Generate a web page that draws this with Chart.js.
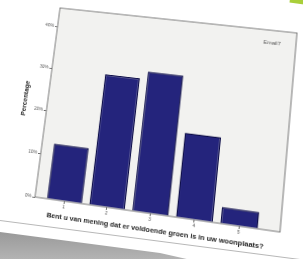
<!DOCTYPE html>
<html>
<head>
  <meta charset="utf-8">
  <title>Groen in uw woonplaats</title>
  <script src="https://cdn.jsdelivr.net/npm/chart.js"></script>
  <style>
    html, body { margin: 0; padding: 0; width: 303px; height: 259px; overflow: hidden; background: #fff; }
    #shadow { position: absolute; left: 0; top: 0; width: 303px; height: 259px;
      background: linear-gradient(180deg, #8e8e8e 85%, #b3b3b3 100%);
      clip-path: polygon(0 232px, 160px 253px, 200px 262px, 0 262px); }
    #edge { position: absolute; left: 0; top: 220px; width: 320px; height: 1px; background: #b8b8b8;
      transform: rotate(7.4deg); transform-origin: 0 0; }
    #corner { position: absolute; left: 290px; top: -5px; width: 22px; height: 9px; background: #a9cf3a;
      transform: rotate(8deg); }
    #chart { position: absolute; left: 0; top: 0; transform-origin: 0 0; }
  </style>
</head>
<body>
  <div id="shadow"></div>
  <div id="edge"></div>
  <div id="corner"></div>
  <canvas id="chart" width="300" height="250"></canvas>
<script>
// answers 1..5 to the question, percentage of respondents
const categories = ['1', '2', '3', '4', '5'];
const percentages = [12.6, 30.0, 31.8, 18.9, 3.6];
const yTicks = [0, 10, 20, 30, 40];
const xTitle = 'Bent u van mening dat er voldoende groen is in uw woonplaats?';
const yTitle = 'Percentage';
const boxLabel = 'Email7';

// where the plot box corners sit in the (tilted) photo: TL, TR, BR, BL
const photoQuad = [[60, 8], [297, 33], [280, 232], [35, 197]];

const frame = {
  id: 'frame',
  beforeDatasetsDraw(chart) {
    const a = chart.chartArea, ctx = chart.ctx;
    ctx.save();
    ctx.fillStyle = '#f2f2f0';
    ctx.fillRect(a.left, a.top, a.width, a.height);
    ctx.strokeStyle = '#777';
    ctx.lineWidth = 1;
    ctx.strokeRect(a.left, a.top, a.width, a.height);
    ctx.restore();
  },
  afterDraw(chart) {
    const a = chart.chartArea, ctx = chart.ctx;
    ctx.save();
    ctx.font = '6px "Liberation Sans"';
    ctx.fillStyle = '#555';
    ctx.textAlign = 'right';
    ctx.fillText(boxLabel, a.right - 16, a.top + 16);
    ctx.restore();
  }
};

const chart = new Chart(document.getElementById('chart'), {
  type: 'bar',
  data: {
    datasets: [{
      data: percentages.map((v, i) => ({ x: i + 1, y: v })),
      backgroundColor: '#24247c',
      borderColor: '#0e0e4a',
      borderWidth: 1.5,
      barPercentage: 0.83,
      categoryPercentage: 1
    }]
  },
  options: {
    responsive: false,
    animation: false,
    layout: { padding: { left: 6, top: 6, right: 4, bottom: 4 } },
    plugins: { legend: { display: false }, tooltip: { enabled: false } },
    scales: {
      x: {
        type: 'linear', min: 0.3, max: 5.9, offset: false,
        afterBuildTicks(axis) { axis.ticks = categories.map((c, i) => ({ value: i + 1 })); },
        grid: { drawOnChartArea: false, tickLength: 3, color: '#666', offset: false },
        border: { display: false },
        ticks: { font: { size: 5, family: 'Liberation Sans' }, color: '#555', padding: 1,
          callback: v => categories[v - 1] },
        title: { display: true, text: xTitle, color: '#222', padding: { top: 2, bottom: 0 },
          font: { size: 7.5, weight: 'bold', family: 'Liberation Sans' } }
      },
      y: {
        min: 0, max: 44.5,
        afterBuildTicks(axis) { axis.ticks = yTicks.map(v => ({ value: v })); },
        grid: { drawOnChartArea: false, tickLength: 3, color: '#666' },
        border: { display: false },
        ticks: { font: { size: 5, family: 'Liberation Sans' }, color: '#555', padding: 1,
          callback: v => v + '%' },
        title: { display: true, text: yTitle, color: '#222', padding: { top: 0, bottom: 6 },
          font: { size: 7.5, weight: 'bold', family: 'Liberation Sans' } }
      }
    }
  },
  plugins: [frame]
});

// tilt the canvas like the photographed sheet: projective map chartArea -> photoQuad
function homography(src, dst) {
  const A = [], B = [];
  for (let i = 0; i < 4; i++) {
    const [x, y] = src[i], [u, v] = dst[i];
    A.push([x, y, 1, 0, 0, 0, -x * u, -y * u]); B.push(u);
    A.push([0, 0, 0, x, y, 1, -x * v, -y * v]); B.push(v);
  }
  const n = 8;
  for (let c = 0; c < n; c++) {
    let p = c;
    for (let r = c + 1; r < n; r++) if (Math.abs(A[r][c]) > Math.abs(A[p][c])) p = r;
    [A[c], A[p]] = [A[p], A[c]]; [B[c], B[p]] = [B[p], B[c]];
    for (let r = 0; r < n; r++) {
      if (r === c) continue;
      const f = A[r][c] / A[c][c];
      for (let k = c; k < n; k++) A[r][k] -= f * A[c][k];
      B[r] -= f * B[c];
    }
  }
  return B.map((b, i) => b / A[i][i]);
}
const ca = chart.chartArea;
const src = [[ca.left, ca.top], [ca.right, ca.top], [ca.right, ca.bottom], [ca.left, ca.bottom]];
const [a, b, c, d, e, f, g, h] = homography(src, photoQuad);
document.getElementById('chart').style.transform =
  `matrix3d(${a},${d},0,${g},${b},${e},0,${h},0,0,1,0,${c},${f},0,1)`;
</script>
</body>
</html>
